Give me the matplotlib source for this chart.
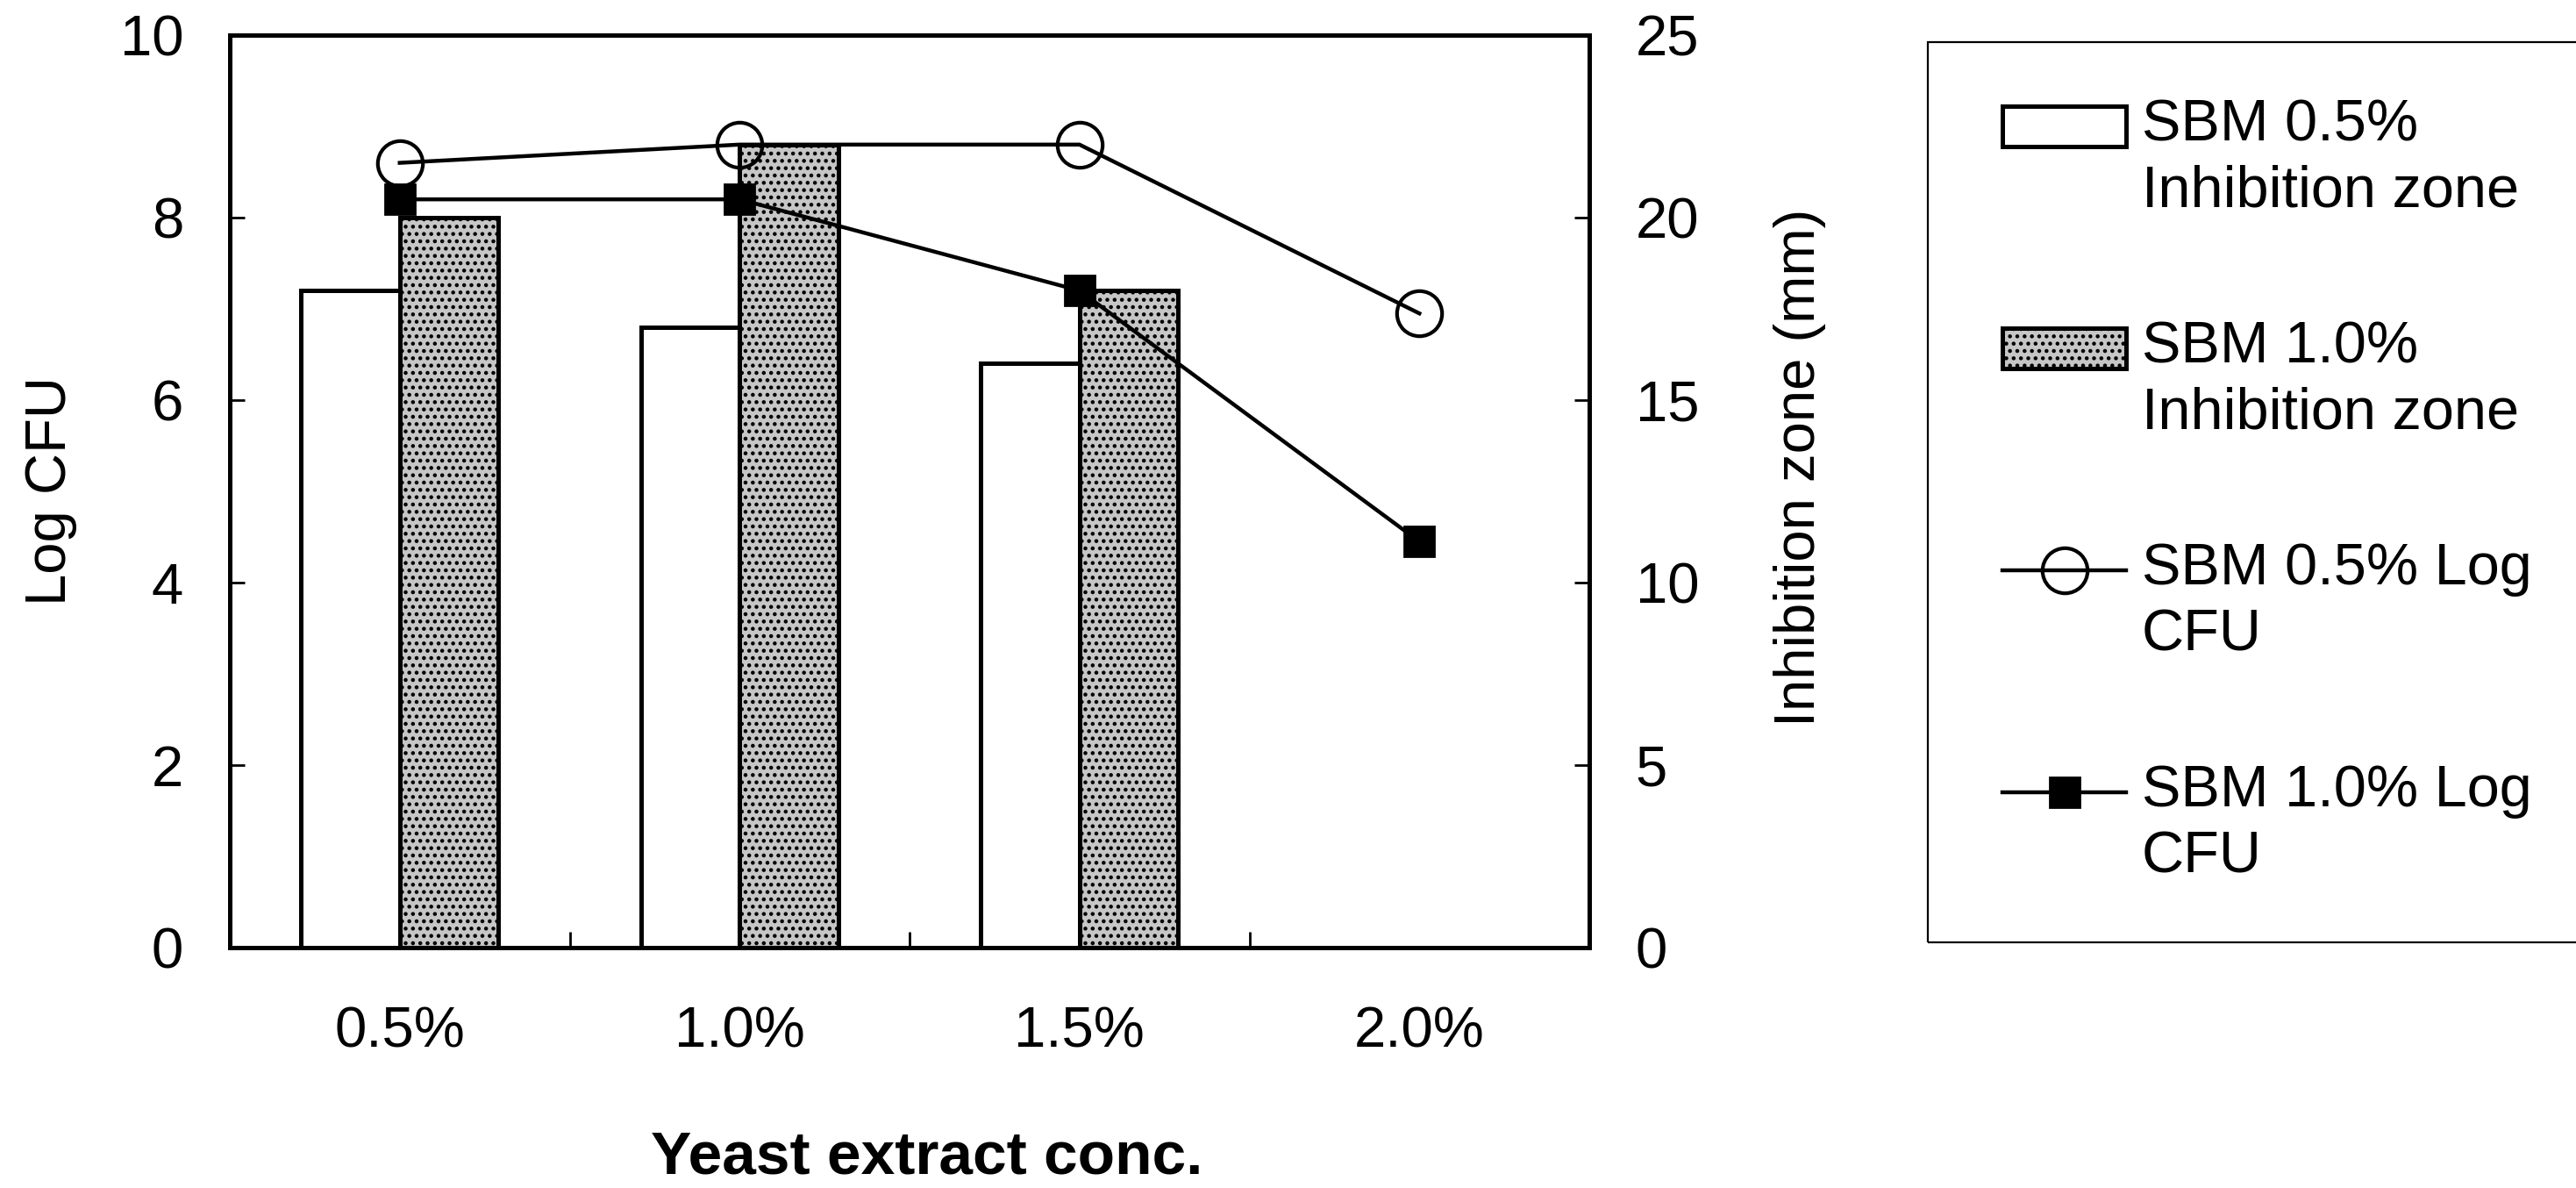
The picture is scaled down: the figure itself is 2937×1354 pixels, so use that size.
import matplotlib
matplotlib.use('Agg')
import matplotlib.pyplot as plt
from matplotlib.patches import Rectangle
import numpy as np

plt.rcParams['font.family'] = ['Liberation Sans', 'DejaVu Sans']
plt.rcParams['hatch.linewidth'] = 1.0

# data
conc = ['0.5%', '1.0%', '1.5%', '2.0%']
inhib_sbm05 = [18.0, 17.0, 16.0, 0.0]    # mm, right axis
inhib_sbm10 = [20.0, 22.0, 18.0, 0.0]    # mm, right axis
logcfu_sbm05 = [8.6, 8.8, 8.8, 6.95]     # left axis
logcfu_sbm10 = [8.2, 8.2, 7.2, 4.45]     # left axis

W, H, DPI = 2937, 1354, 200
fig = plt.figure(figsize=(W / DPI, H / DPI), dpi=DPI)
fig.patch.set_facecolor('white')

ax = fig.add_axes([262 / W, 1 - 1080 / H, 1550 / W, 1040 / H])
ax2 = ax.twinx()
# lines have to sit above the bars
ax.set_zorder(ax2.get_zorder() + 1)
ax.patch.set_visible(False)

x = np.arange(len(conc))
w = 0.29
fs = 23.5

b1 = ax2.bar(x - w / 2, inhib_sbm05, w, facecolor='white', edgecolor='black', linewidth=1.8)
b2 = ax2.bar(x + w / 2, inhib_sbm10, w, facecolor='#c6c6c6', edgecolor='black',
             linewidth=1.8, hatch='....')

l1, = ax.plot(x, logcfu_sbm05, color='black', linewidth=1.6, marker='o', markersize=18.5,
              markerfacecolor='none', markeredgecolor='black', markeredgewidth=1.5)
l2, = ax.plot(x, logcfu_sbm10, color='black', linewidth=1.6, marker='s', markersize=12,
              markerfacecolor='black', markeredgecolor='black')

ax.set_xlim(-0.5, 3.5)
ax.set_ylim(0, 10)
ax2.set_ylim(0, 25)
ax.set_yticks(np.arange(0, 11, 2))
ax2.set_yticks(np.arange(0, 26, 5))

# ticks at category borders, labels at centres
ax.set_xticks([0.5, 1.5, 2.5])
ax.set_xticklabels([])
ax.set_xticks(x, minor=True)
ax.set_xticklabels(conc, minor=True)
ax.tick_params(axis='x', which='major', direction='in', length=6.5, width=1.0)
ax.tick_params(axis='x', which='minor', length=0, pad=24, labelsize=fs)
ax.tick_params(axis='y', direction='in', length=6, width=1.0, pad=19, labelsize=fs)
ax2.tick_params(axis='y', direction='in', length=6, width=1.0, pad=19, labelsize=fs)

for a in (ax, ax2):
    for s in a.spines.values():
        s.set_linewidth(1.8)

ax.set_ylabel('Log CFU', fontsize=fs)
ax.yaxis.set_label_coords(-0.112, 0.5)
ax2.set_ylabel('Inhibition zone (mm)', fontsize=fs)
ax2.yaxis.set_label_coords(1.1355, 0.526)
ax.set_xlabel('Yeast extract conc.', fontsize=25, fontweight='bold')
ax.xaxis.set_label_coords(0.513, -0.2)

# legend box runs off the right edge of the picture
fig.add_artist(Rectangle((2198 / W, 1 - 1074 / H), (2990 - 2198) / W, (1074 - 48) / H,
                         transform=fig.transFigure, fill=False, edgecolor='black',
                         linewidth=0.8))
labels = ['\nSBM 0.5%\nInhibition zone', '\nSBM 1.0%\nInhibition zone',
          '\nSBM 0.5% Log\nCFU', '\nSBM 1.0% Log\nCFU']
leg = fig.legend([b1, b2, l1, l2], labels, loc='upper left',
                 bbox_to_anchor=(2283 / W, 1 - 37 / H), frameon=False, fontsize=24,
                 handlelength=2.12, handletextpad=0.26, labelspacing=0.6,
                 borderpad=0, borderaxespad=0)
for t in leg.get_texts():
    t.set_linespacing(1.28)

fig.savefig('out.png', dpi=DPI)
